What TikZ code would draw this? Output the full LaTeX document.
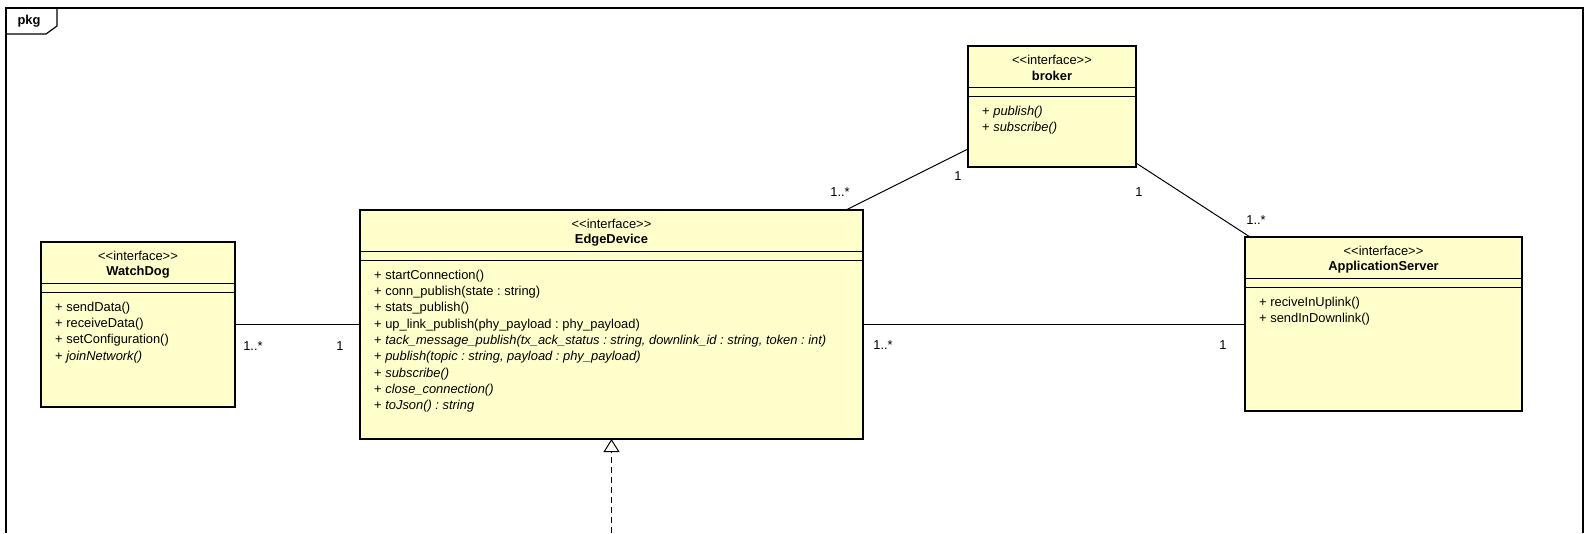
\documentclass[tikz,border=0pt]{standalone}
\usepackage{fontspec}
\setmainfont{Liberation Sans}
\usetikzlibrary{arrows.meta,calc}
\frenchspacing

\definecolor{classfill}{HTML}{FFFFCC}

% one UML interface box: name, x, y, width, height, title, operations
\newcommand\umlinterface[7]{%
  \node[classbox, minimum width=#4pt, minimum height=#5pt] (#1) at (#2,#3) {};
  \node[plaintext] (#1-st) at ($(#1.north)+(0,14)$) {<{}<interface>{}>};
  \node[plaintext, font=\umlfont\bfseries] (#1-nm) at ($(#1.north)+(0,30)$) {#6};
  \draw[sepline] ($(#1.north west)+(0,41)$) -- ($(#1.north east)+(0,41)$);
  \draw[sepline] ($(#1.north west)+(0,50)$) -- ($(#1.north east)+(0,50)$);
  \foreach \m [count=\i] in {#7}
    \node[member] (#1-m\i) at ($(#1.north west)+(14,49.7+16.3*\i)$) {\m};
}
\newcommand\umlfont{\fontsize{12.9}{14}\selectfont\frenchspacing}

\begin{document}
\begin{tikzpicture}[x=1pt,y=-1pt,
  font=\umlfont,
  classbox/.style={draw, line width=2pt, fill=classfill, anchor=north west,
                   inner sep=0pt, outer sep=0pt},
  plaintext/.style={inner sep=0pt},
  sepline/.style={line width=1pt},
  assoc/.style={line width=1pt},
  member/.style={anchor=west, inner sep=0pt},
  mult/.style={inner sep=0pt},
  framepen/.style={line width=1.2pt},
  ]
\useasboundingbox (0,0) rectangle (1593,533);

% package frame with its name tab
\draw[framepen] (6,533) -- (6,8) -- (1583,8) -- (1583,533);
\draw[framepen] (6,34) -- (46,34) -- (57,26) -- (57,8);
\node[plaintext, font=\umlfont\bfseries] (pkg) at (29,21) {pkg};

% interfaces
\umlinterface{wd}{41}{242}{194}{165}{WatchDog}
  {+ sendData(), + receiveData(), + setConfiguration(), + \textit{joinNetwork()}}
\umlinterface{ed}{360}{210}{503}{229}{EdgeDevice}
  {+ startConnection(), + conn\_publish(state : string), + stats\_publish(),
   + up\_link\_publish(phy\_payload : phy\_payload),
   {+ \textit{tack\_message\_publish(tx\_ack\_status : string, downlink\_id : string, token : int)}},
   {+ \textit{publish(topic : string, payload : phy\_payload)}},
   + \textit{subscribe()}, + \textit{close\_connection()}, + \textit{toJson() : string}}
\umlinterface{br}{968}{46}{168}{121}{broker}
  {+ \textit{publish()}, + \textit{subscribe()}}
\umlinterface{app}{1245}{237}{277}{174}{ApplicationServer}
  {+ reciveInUplink(), + sendInDownlink()}

% associations
\draw[assoc] (wd.east) -- (ed.west);
\draw[assoc] (ed.east) -- (ed.east -| app.west);
\draw[assoc] ($(br.south west)+(0,-18)$) -- ($(ed.north east)+(-17,0)$);
\draw[assoc] ($(br.south east)+(0,-4)$) -- ($(app.north west)+(5,0)$);

% multiplicities
\node[mult] (m-wd) at (253,346) {1..*};
\node[mult] (m-ed1) at (340,346) {1};
\node[mult] (m-ed2) at (883,345) {1..*};
\node[mult] (m-app1) at (1223,345) {1};
\node[mult] (m-br1) at (958,176) {1};
\node[mult] (m-ed3) at (840,192) {1..*};
\node[mult] (m-br2) at (1139,192) {1};
\node[mult] (m-app2) at (1256,220) {1..*};

% realization coming in from below
\coordinate (impl) at (ed.south |- 0,533);
\draw[line width=1pt, dash pattern=on 6pt off 4pt,
      -{Triangle[open, width=16pt, length=13pt]}] (impl) -- (ed.south);
\end{tikzpicture}
\end{document}
